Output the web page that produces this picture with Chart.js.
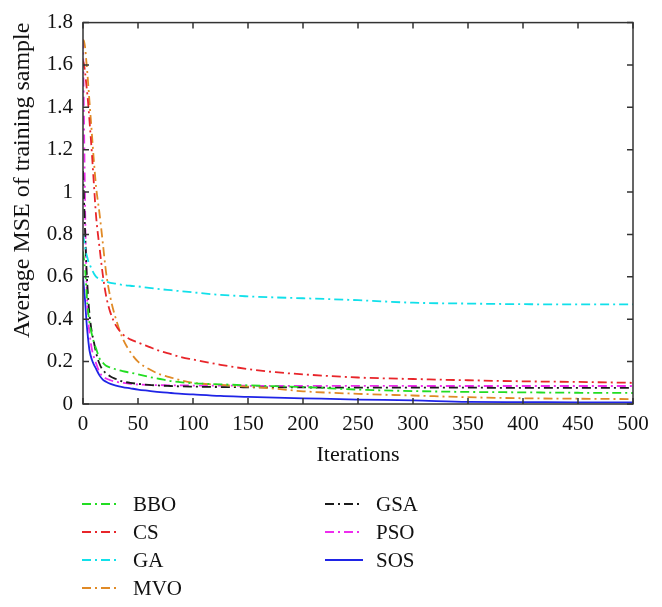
<!DOCTYPE html>
<html>
<head>
<meta charset="utf-8">
<script src="https://cdn.jsdelivr.net/npm/chart.js@4.4.0/dist/chart.umd.min.js"></script>
<style>
  html, body { margin: 0; padding: 0; background: #fff; }
  #wrap { width: 662px; height: 607px; }
</style>
</head>
<body>
<div id="wrap"><canvas id="mseChart" width="662" height="607"></canvas></div>
<script>
// iterations shared by every curve
var iterations = [0, 1, 2, 3, 4, 5, 6, 8, 10, 12, 15, 18, 21, 25, 30, 36, 43, 50, 60, 70, 80, 90, 100, 125, 150, 175, 200, 250, 300, 350, 400, 450, 500];

var bbo = [0.72, 0.68, 0.63, 0.55, 0.47, 0.42, 0.38, 0.33, 0.29, 0.26, 0.215, 0.195, 0.18, 0.172, 0.163, 0.155, 0.148, 0.14, 0.128, 0.118, 0.108, 0.102, 0.098, 0.093, 0.088, 0.084, 0.08, 0.068, 0.061, 0.057, 0.055, 0.053, 0.052];
var cs  = [1.62, 1.60, 1.56, 1.51, 1.46, 1.40, 1.33, 1.19, 1.03, 0.88, 0.74, 0.61, 0.51, 0.43, 0.37, 0.33, 0.305, 0.29, 0.27, 0.25, 0.235, 0.22, 0.21, 0.185, 0.165, 0.15, 0.14, 0.125, 0.118, 0.112, 0.107, 0.104, 0.10];
var ga  = [0.80, 0.77, 0.74, 0.71, 0.69, 0.67, 0.66, 0.635, 0.615, 0.60, 0.59, 0.582, 0.578, 0.572, 0.568, 0.562, 0.558, 0.555, 0.548, 0.542, 0.537, 0.532, 0.527, 0.515, 0.508, 0.503, 0.499, 0.49, 0.478, 0.474, 0.471, 0.47, 0.47];
var mvo = [1.72, 1.71, 1.68, 1.62, 1.56, 1.49, 1.42, 1.28, 1.14, 1.02, 0.90, 0.76, 0.62, 0.50, 0.40, 0.31, 0.245, 0.20, 0.165, 0.14, 0.125, 0.11, 0.10, 0.09, 0.082, 0.072, 0.06, 0.048, 0.04, 0.032, 0.027, 0.025, 0.023];
var gsa = [1.10, 0.95, 0.80, 0.66, 0.56, 0.48, 0.42, 0.34, 0.29, 0.24, 0.19, 0.16, 0.145, 0.13, 0.118, 0.106, 0.10, 0.095, 0.09, 0.087, 0.085, 0.083, 0.082, 0.08, 0.079, 0.078, 0.078, 0.077, 0.077, 0.077, 0.076, 0.076, 0.076];
var pso = [1.72, 1.30, 0.90, 0.62, 0.46, 0.38, 0.33, 0.26, 0.22, 0.19, 0.15, 0.13, 0.12, 0.112, 0.105, 0.10, 0.095, 0.092, 0.09, 0.089, 0.088, 0.088, 0.087, 0.087, 0.086, 0.086, 0.086, 0.086, 0.085, 0.085, 0.085, 0.085, 0.085];
var sos = [0.60, 0.54, 0.48, 0.40, 0.34, 0.29, 0.25, 0.21, 0.185, 0.165, 0.135, 0.115, 0.105, 0.095, 0.087, 0.08, 0.074, 0.068, 0.062, 0.056, 0.052, 0.048, 0.045, 0.038, 0.034, 0.03, 0.027, 0.021, 0.017, 0.01, 0.009, 0.008, 0.008];

var xTicks = [0, 50, 100, 150, 200, 250, 300, 350, 400, 450, 500];
var yTicks = [0, 0.2, 0.4, 0.6, 0.8, 1, 1.2, 1.4, 1.6, 1.8];
var yTickLabels = ['0', '0.2', '0.4', '0.6', '0.8', '1', '1.2', '1.4', '1.6', '1.8'];

var serif = '"Liberation Serif", "Times New Roman", serif';
var dashDot = [9, 4, 2, 4];

function pts(vals) {
    return iterations.map(function (it, i) { return { x: it, y: vals[i] }; });
}

function series(label, vals, color, dash) {
    return {
        label: label,
        data: pts(vals),
        borderColor: color,
        backgroundColor: color,
        borderWidth: 1.8,
        borderDash: dash,
        pointRadius: 0,
        cubicInterpolationMode: 'monotone',
        fill: false
    };
}

var datasets = [
    series('BBO', bbo, '#22dd22', dashDot),
    series('CS', cs, '#e8252a', dashDot),
    series('GA', ga, '#11e0ea', dashDot),
    series('MVO', mvo, '#e08a26', dashDot),
    series('GSA', gsa, '#1a1a1a', dashDot),
    series('PSO', pso, '#ee2cee', dashDot),
    series('SOS', sos, '#1f24e6', [])
];

// box around the plot with inward ticks, like the original figure
var framePlugin = {
    id: 'frame',
    afterDraw: function (chart) {
        var ctx = chart.ctx, a = chart.chartArea;
        var xs = chart.scales.x, ys = chart.scales.y;
        ctx.save();
        ctx.strokeStyle = '#333';
        ctx.lineWidth = 1.5;
        ctx.setLineDash([]);
        ctx.strokeRect(a.left, a.top, a.right - a.left, a.bottom - a.top);
        ctx.beginPath();
        xTicks.forEach(function (v) {
            var px = xs.getPixelForValue(v);
            ctx.moveTo(px, a.bottom); ctx.lineTo(px, a.bottom - 6);
            ctx.moveTo(px, a.top); ctx.lineTo(px, a.top + 6);
        });
        yTicks.forEach(function (v) {
            var py = ys.getPixelForValue(v);
            ctx.moveTo(a.left, py); ctx.lineTo(a.left + 6, py);
            ctx.moveTo(a.right, py); ctx.lineTo(a.right - 6, py);
        });
        ctx.stroke();
        ctx.restore();
    }
};

// two-column legend under the axis title
var legendPlugin = {
    id: 'colLegend',
    afterDraw: function (chart) {
        var ctx = chart.ctx;
        ctx.save();
        ctx.font = '21px ' + serif;
        ctx.textBaseline = 'middle';
        ctx.textAlign = 'left';
        chart.data.datasets.forEach(function (ds, i) {
            var col = i < 4 ? 0 : 1, row = i < 4 ? i : i - 4;
            var x0 = col === 0 ? 82 : 325;
            var y = 504 + row * 28;
            ctx.strokeStyle = ds.borderColor;
            ctx.lineWidth = 1.8;
            ctx.setLineDash(ds.borderDash);
            ctx.beginPath();
            ctx.moveTo(x0, y); ctx.lineTo(x0 + 38, y);
            ctx.stroke();
            ctx.setLineDash([]);
            ctx.fillStyle = '#111';
            ctx.fillText(ds.label, x0 + 51, y + 1);
        });
        ctx.restore();
    }
};

var ctx = document.getElementById('mseChart').getContext('2d');
var mseChart = new Chart(ctx, {
    type: 'line',
    data: { datasets: datasets },
    options: {
        responsive: false,
        animation: false,
        layout: { padding: { top: 22, right: 29, left: 0, bottom: 0 } },
        plugins: {
            legend: { display: false },
            tooltip: { enabled: false }
        },
        scales: {
            x: {
                type: 'linear',
                min: 0,
                max: 500,
                afterFit: function (s) { s.height = 203; },
                afterBuildTicks: function (s) { s.ticks = xTicks.map(function (v) { return { value: v }; }); },
                grid: { display: false, drawTicks: false },
                border: { display: false },
                ticks: { color: '#111', padding: 8, maxRotation: 0, font: { family: serif, size: 21 } },
                title: {
                    display: true,
                    text: 'Iterations',
                    color: '#111',
                    font: { family: serif, size: 22 },
                    padding: { top: 0, bottom: 139 }
                }
            },
            y: {
                min: 0,
                max: 1.8,
                afterFit: function (s) { s.width = 83; },
                afterBuildTicks: function (s) { s.ticks = yTicks.map(function (v) { return { value: v }; }); },
                grid: { display: false, drawTicks: false },
                border: { display: false },
                ticks: {
                    color: '#111',
                    padding: 10,
                    font: { family: serif, size: 21 },
                    callback: function (v, i) { return yTickLabels[i]; }
                },
                title: {
                    display: true,
                    text: 'Average MSE of training sample',
                    align: 'end',
                    color: '#111',
                    font: { family: serif, size: 24 },
                    padding: { top: 8, bottom: 0 }
                }
            }
        }
    },
    plugins: [framePlugin, legendPlugin]
});
</script>
</body>
</html>
